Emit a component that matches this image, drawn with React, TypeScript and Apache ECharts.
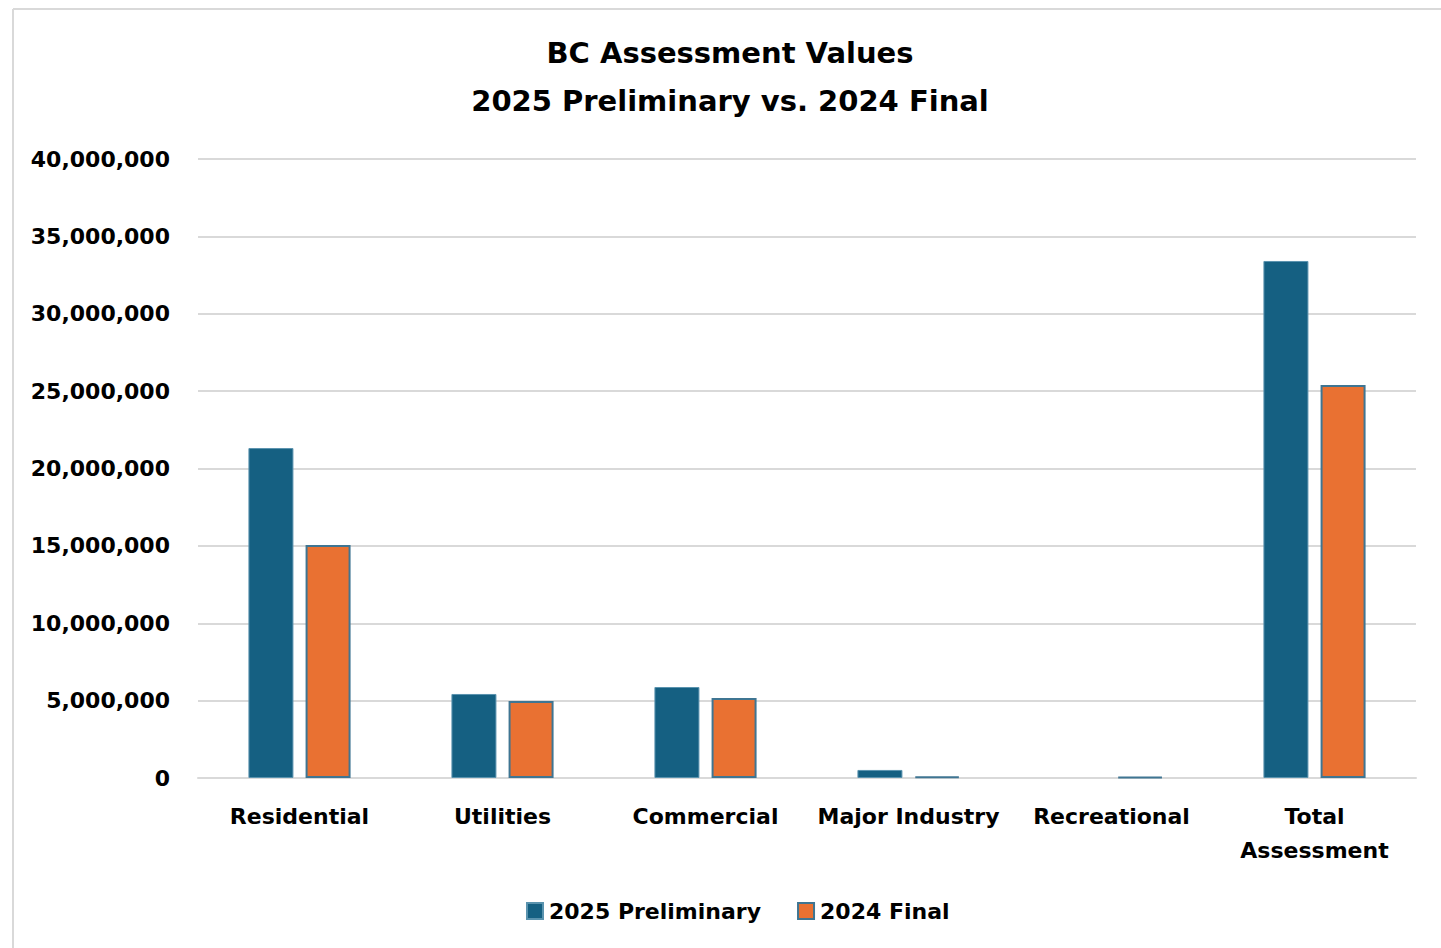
import React, { useEffect, useRef } from "react";
import * as echarts from "echarts";

const categories = ["Residential", "Utilities", "Commercial", "Major Industry", "Recreational", "Total\nAssessment"];
const prelim2025 = [21320000, 5430000, 5880000, 520000, 0, 33410000];
const final2024 = [15060000, 4980000, 5170000, 90000, 80000, 25400000];
const seriesNames = ["2025 Preliminary", "2024 Final"];
const titleLines = ["BC Assessment Values", "2025 Preliminary vs. 2024 Final"];

const FONT = "'DejaVu Sans', sans-serif";

const toData = (arr: number[]) =>
  arr.map((v) => (v === 0 ? { value: v, itemStyle: { borderWidth: 0 } } : v));

export default function App() {
  const ref = useRef<HTMLDivElement>(null);
  useEffect(() => {
    if (!ref.current) return;
    const chart = echarts.init(ref.current, null, { renderer: "svg" });
    chart.setOption({
      animation: false,
      backgroundColor: "#ffffff",
      textStyle: { fontFamily: FONT },
      title: {
        text: titleLines.join("\n"),
        left: 730,
        top: 29,
        padding: 0,
        textAlign: "center",
        textStyle: { fontFamily: FONT, fontSize: 29, fontWeight: "bold", color: "#000", lineHeight: 48 },
      },
      legend: {
        data: seriesNames,
        left: 526,
        top: 899,
        padding: 0,
        itemWidth: 16,
        itemHeight: 16,
        itemGap: 36,
        icon: "rect",
        textStyle: { fontFamily: FONT, fontSize: 22, fontWeight: "bold", color: "#000", lineHeight: 24, padding: [0, 0, 0, 1] },
      },
      grid: { left: 198, right: 25, top: 159, bottom: 170, containLabel: false },
      xAxis: {
        type: "category",
        data: categories,
        axisLine: { show: true, lineStyle: { color: "#d9d9d9", width: 2 } },
        axisTick: { show: false },
        axisLabel: {
          interval: 0,
          margin: 21,
          fontFamily: FONT,
          fontSize: 22,
          fontWeight: "bold",
          color: "#000",
          lineHeight: 34,
        },
      },
      yAxis: {
        type: "value",
        min: 0,
        max: 40000000,
        interval: 5000000,
        axisLine: { show: false },
        axisTick: { show: false },
        splitLine: { lineStyle: { color: "#d9d9d9", width: 2 } },
        axisLabel: {
          margin: 28,
          fontFamily: FONT,
          fontSize: 22,
          fontWeight: "bold",
          color: "#000",
          formatter: (v: number) => v.toLocaleString("en-US"),
        },
      },
      series: [
        {
          name: seriesNames[0],
          type: "bar",
          data: toData(prelim2025),
          barWidth: 45,
          barGap: "27%",
          itemStyle: { color: "#156082", borderColor: "#5a93ae", borderWidth: 1 },
        },
        {
          name: seriesNames[1],
          type: "bar",
          data: toData(final2024),
          barWidth: 45,
          itemStyle: { color: "#E97132", borderColor: "#3f7592", borderWidth: 2 },
        },
      ],
      graphic: [
        { type: "line", shape: { x1: 13, y1: 9, x2: 13, y2: 948 }, style: { stroke: "#d9d9d9", lineWidth: 2 }, silent: true },
        { type: "line", shape: { x1: 13, y1: 9, x2: 1441, y2: 9 }, style: { stroke: "#d9d9d9", lineWidth: 2 }, silent: true },
      ],
    });
    return () => chart.dispose();
  }, []);
  return (
    <div
      ref={ref}
      style={{ position: "fixed", left: 0, top: 0, width: 1441, height: 948, overflow: "hidden" }}
    />
  );
}
